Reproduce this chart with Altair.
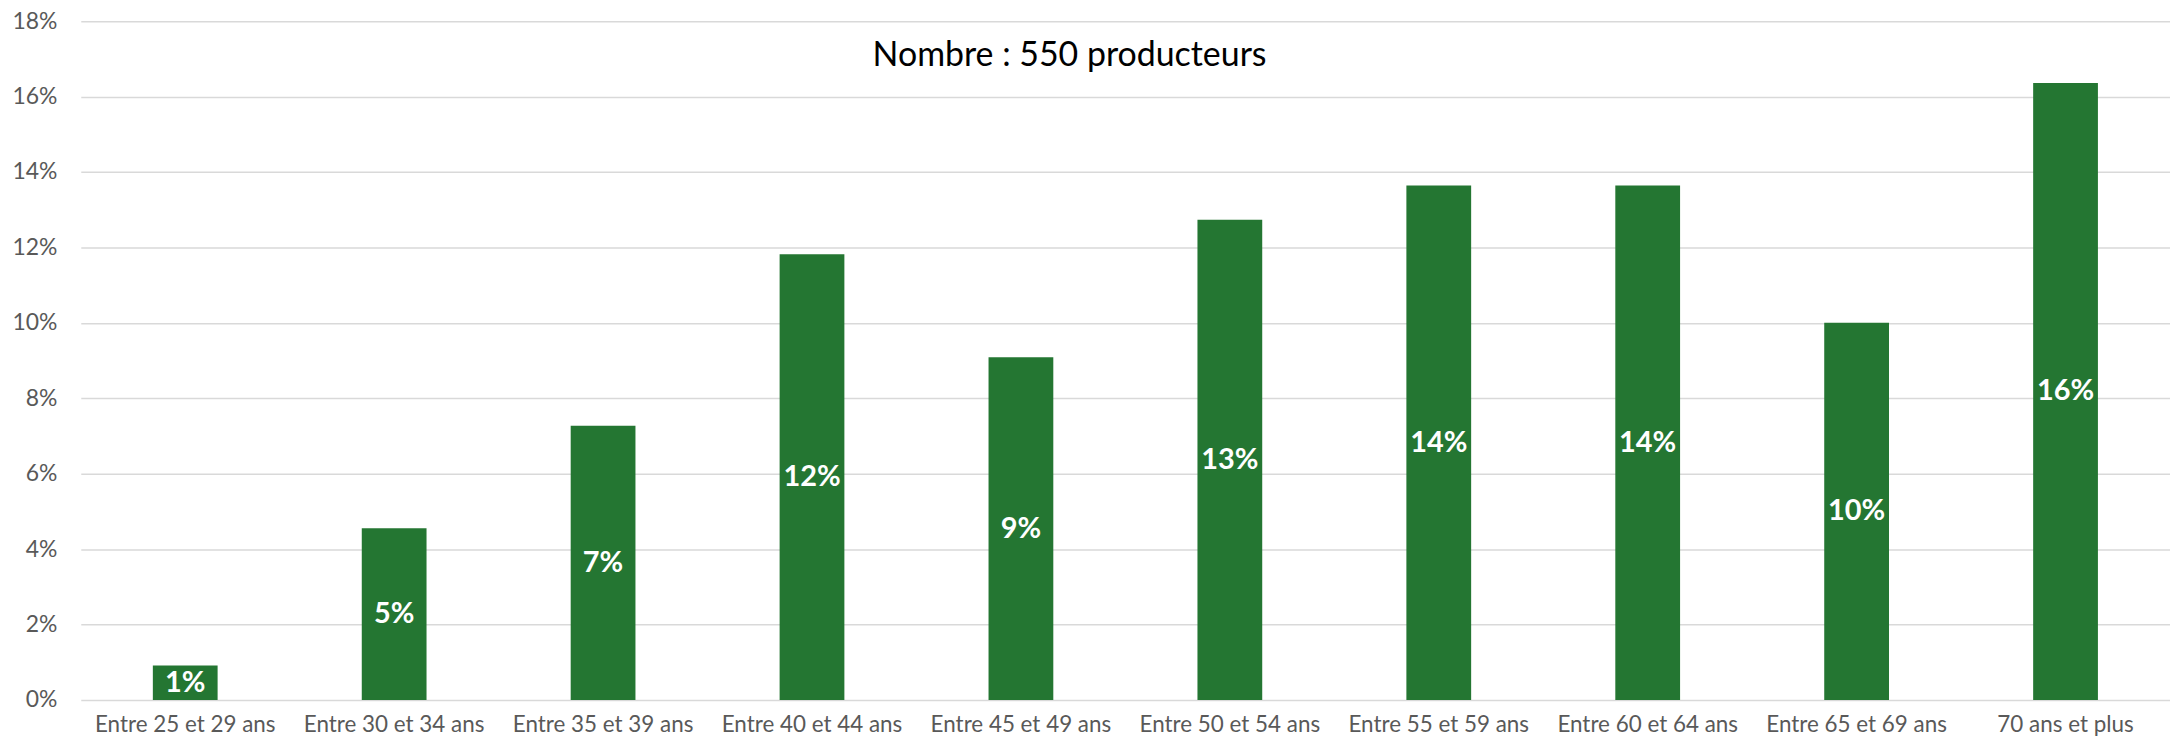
import altair as alt
import pandas as pd

categories = [
    "Entre 25 et 29 ans", "Entre 30 et 34 ans", "Entre 35 et 39 ans",
    "Entre 40 et 44 ans", "Entre 45 et 49 ans", "Entre 50 et 54 ans",
    "Entre 55 et 59 ans", "Entre 60 et 64 ans", "Entre 65 et 69 ans",
    "70 ans et plus",
]
shares = [0.0091, 0.0455, 0.0727, 0.1182, 0.0909, 0.1273, 0.1364, 0.1364, 0.1000, 0.1636]
y_ticks = [0, 0.02, 0.04, 0.06, 0.08, 0.10, 0.12, 0.14, 0.16, 0.18]
title_text = "Nombre : 550 producteurs"

FONT = "Lato, sans-serif"
BAR = "#247632"
GRAY = "#595959"

df = pd.DataFrame({"cat": categories, "share": shares})

x_enc = alt.X(
    "cat:N", sort=categories,
    scale=alt.Scale(paddingInner=0.69, paddingOuter=0.345),
    axis=alt.Axis(title=None, labelAngle=0, ticks=False, domain=False,
                  labelFont=FONT, labelFontSize=22.5, labelColor=GRAY,
                  labelPadding=14, labelLimit=400, labelOverlap=False),
)

base = alt.Chart(df).encode(x=x_enc)

bars = base.mark_bar(color=BAR).encode(
    y=alt.Y("share:Q",
            scale=alt.Scale(domain=[0, 0.18], nice=False),
            axis=alt.Axis(title=None, format=".0%", values=y_ticks, grid=True,
                          gridColor="#d9d9d9", gridWidth=1.5, domain=False,
                          ticks=False, labelFont=FONT, labelFontSize=23,
                          labelColor=GRAY, labelPadding=24)),
)

labels = base.mark_text(color="white", fontWeight="bold", fontSize=29,
                        font=FONT, baseline="middle").transform_calculate(
    mid="datum.share / 2"
).encode(
    y=alt.Y("mid:Q"),
    text=alt.Text("share:Q", format=".0%"),
)

title = alt.Chart(pd.DataFrame({"t": [title_text]})).mark_text(
    font=FONT, fontSize=34, color="black", baseline="middle", align="center"
).encode(text="t:N", x=alt.value(992), y=alt.value(35))

chart = alt.layer(bars, labels, title).properties(
    width=2096, height=681,
    autosize=alt.AutoSizeParams(type="none"),
    padding={"left": 73, "top": 12, "right": 0, "bottom": 35},
).configure_view(stroke=None)

chart.save("out.html", embed_options={"renderer": "svg", "actions": False})
